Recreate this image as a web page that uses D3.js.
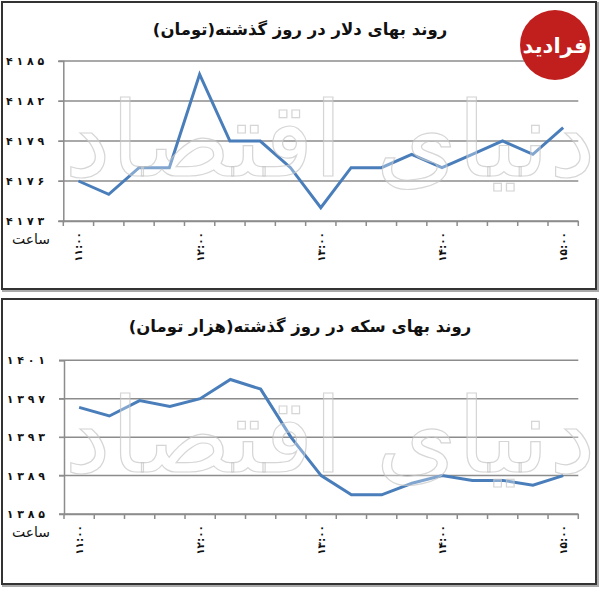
<!DOCTYPE html>
<html>
<head>
<meta charset="utf-8">
<script src="https://cdn.jsdelivr.net/npm/d3@7"></script>
<style>
  body { margin: 0; background: #fff; }
  svg { display: block; }
</style>
</head>
<body>
<div id="chart"></div>
<script>
// 15-minute steps from 11:00 to 15:00, only full hours get a label
var times = ["11:00","11:15","11:30","11:45","12:00","12:15","12:30","12:45",
             "13:00","13:15","13:30","13:45","14:00","14:15","14:30","14:45","15:00"];

var dollarValues = [4176, 4175, 4177, 4177, 4184, 4179, 4179, 4177, 4174,
                    4177, 4177, 4178, 4177, 4178, 4179, 4178, 4180];
var dollarTicks = [4173, 4176, 4179, 4182, 4185];

var coinValues = [1396.1, 1395.2, 1396.8, 1396.2, 1397, 1399, 1398, 1393, 1389,
                  1387, 1387, 1388.2, 1389, 1388.5, 1388.5, 1388, 1389];
var coinTicks = [1385, 1389, 1393, 1397, 1401];

var dollarTitle = "روند بهای دلار در روز گذشته(تومان)";
var coinTitle = "روند بهای سکه در روز گذشته(هزار تومان)";
var hourLabel = "ساعت";

var faFont = "'DejaVu Sans', sans-serif";
var lineColor = "#4a7ebb";
var gridColor = "#8c8c8c";

function toFa(s) {
  return String(s).replace(/\d/g, function(d) { return "۰۱۲۳۴۵۶۷۸۹"[d]; });
}

// y labels are printed with a gap between the digits
function spaced(s) {
  return toFa(s).split("").join(" ");
}

var svg = d3.select("#chart")
  .append("svg")
    .attr("width", 600)
    .attr("height", 589);

function drawPanel(top, bottom, plot, values, ticks, title) {
  // frame
  svg.append("rect")
    .attr("x", 3).attr("y", top + 1)
    .attr("width", 595).attr("height", bottom - top)
    .attr("fill", "none")
    .attr("stroke", "#aaa")
    .attr("stroke-width", 2);
  svg.append("rect")
    .attr("x", 2).attr("y", top)
    .attr("width", 594).attr("height", bottom - top - 1)
    .attr("fill", "#fff")
    .attr("stroke", "#333")
    .attr("stroke-width", 2);

  svg.append("text")
    .attr("x", 300)
    .attr("y", top + plot.titleY)
    .attr("text-anchor", "middle")
    .attr("direction", "rtl")
    .style("font-family", faFont)
    .style("font-weight", "bold")
    .style("font-size", "16.5px")
    .attr("fill", "#111")
    .text(title);

  var x = d3.scaleBand()
    .domain(times)
    .range([plot.left, plot.right])
    .padding(0);

  var y = d3.scaleLinear()
    .domain([ticks[0], ticks[ticks.length - 1]])
    .range([plot.bottom, plot.top]);

  // gridlines
  svg.append("g")
    .selectAll("line")
    .data(ticks)
    .enter()
    .append("line")
      .attr("x1", plot.left - 5)
      .attr("x2", plot.right)
      .attr("y1", function(d) { return y(d); })
      .attr("y2", function(d) { return y(d); })
      .attr("stroke", gridColor)
      .attr("stroke-width", 1.5);

  // y axis
  var yAxis = svg.append("g")
    .attr("transform", "translate(" + plot.left + ",0)")
    .call(d3.axisLeft(y).tickValues(ticks).tickSize(5).tickPadding(14).tickFormat(spaced));
  yAxis.select(".domain").attr("stroke", gridColor).attr("stroke-width", 1.5);
  yAxis.selectAll(".tick line").attr("stroke", gridColor);
  yAxis.selectAll("text")
    .style("font-family", faFont)
    .style("font-weight", "bold")
    .style("font-size", "11px")
    .style("white-space", "pre")
    .attr("fill", "#111");

  // x axis: ticks sit between categories
  var xAxis = svg.append("g")
    .attr("transform", "translate(0," + plot.bottom + ")")
    .call(d3.axisBottom(x).tickSize(0).tickFormat(""));
  xAxis.select(".domain").attr("stroke", gridColor).attr("stroke-width", 1.5);
  xAxis.selectAll(".tick").remove();

  var edges = times.map(function(t) { return x(t); }).concat([plot.right]);
  svg.append("g")
    .selectAll("line")
    .data(edges)
    .enter()
    .append("line")
      .attr("x1", function(d) { return d; })
      .attr("x2", function(d) { return d; })
      .attr("y1", plot.bottom)
      .attr("y2", plot.bottom + 5)
      .attr("stroke", gridColor)
      .attr("stroke-width", 1.5);

  svg.append("g")
    .selectAll("text")
    .data(times.filter(function(t) { return t.slice(-2) === "00"; }))
    .enter()
    .append("text")
      .attr("transform", function(d) {
        return "translate(" + (x(d) + x.bandwidth() / 2 + 4) + "," + (plot.bottom + 11) + ")rotate(-90)";
      })
      .attr("text-anchor", "end")
      .style("font-family", faFont)
      .style("font-weight", "bold")
      .style("font-size", "10.5px")
      .attr("fill", "#111")
      .text(function(d) { return toFa(d); });

  svg.append("text")
    .attr("x", 50)
    .attr("y", plot.bottom + 23)
    .attr("text-anchor", "end")
    .style("font-family", faFont)
    .style("font-size", "14px")
    .attr("fill", "#111")
    .text(hourLabel);

  var line = d3.line()
    .x(function(d, i) { return x(times[i]) + x.bandwidth() / 2; })
    .y(function(d) { return y(d); });

  svg.append("path")
    .datum(values)
    .attr("d", line)
    .attr("fill", "none")
    .attr("stroke", lineColor)
    .attr("stroke-width", 3)
    .attr("stroke-linejoin", "miter");

  // faint watermark over the plot
  svg.append("text")
    .attr("x", 330)
    .attr("y", (plot.top + plot.bottom) / 2 + 35)
    .attr("text-anchor", "middle")
    .attr("direction", "rtl")
    .style("font-family", faFont)
    .style("font-size", "104px")
    .attr("fill", "#fff")
    .attr("fill-opacity", 0.3)
    .attr("stroke", "#c4c4c4")
    .attr("stroke-width", 1.2)
    .attr("stroke-opacity", 0.7)
    .text("دنیای اقتصاد");
}

drawPanel(2, 290,
  {left: 63.3, right: 578.3, top: 61, bottom: 221, titleY: 33},
  dollarValues, dollarTicks, dollarTitle);

drawPanel(299, 585,
  {left: 64, right: 578.3, top: 360.3, bottom: 514, titleY: 33},
  coinValues, coinTicks, coinTitle);

// logo
svg.append("circle")
  .attr("cx", 555).attr("cy", 45).attr("r", 35)
  .attr("fill", "#c01f1d");
svg.append("text")
  .attr("x", 555).attr("y", 53)
  .attr("text-anchor", "middle")
  .attr("direction", "rtl")
  .style("font-family", faFont)
  .style("font-weight", "bold")
  .style("font-size", "21px")
  .attr("fill", "#fff")
  .text("فرادید");
</script>
</body>
</html>
